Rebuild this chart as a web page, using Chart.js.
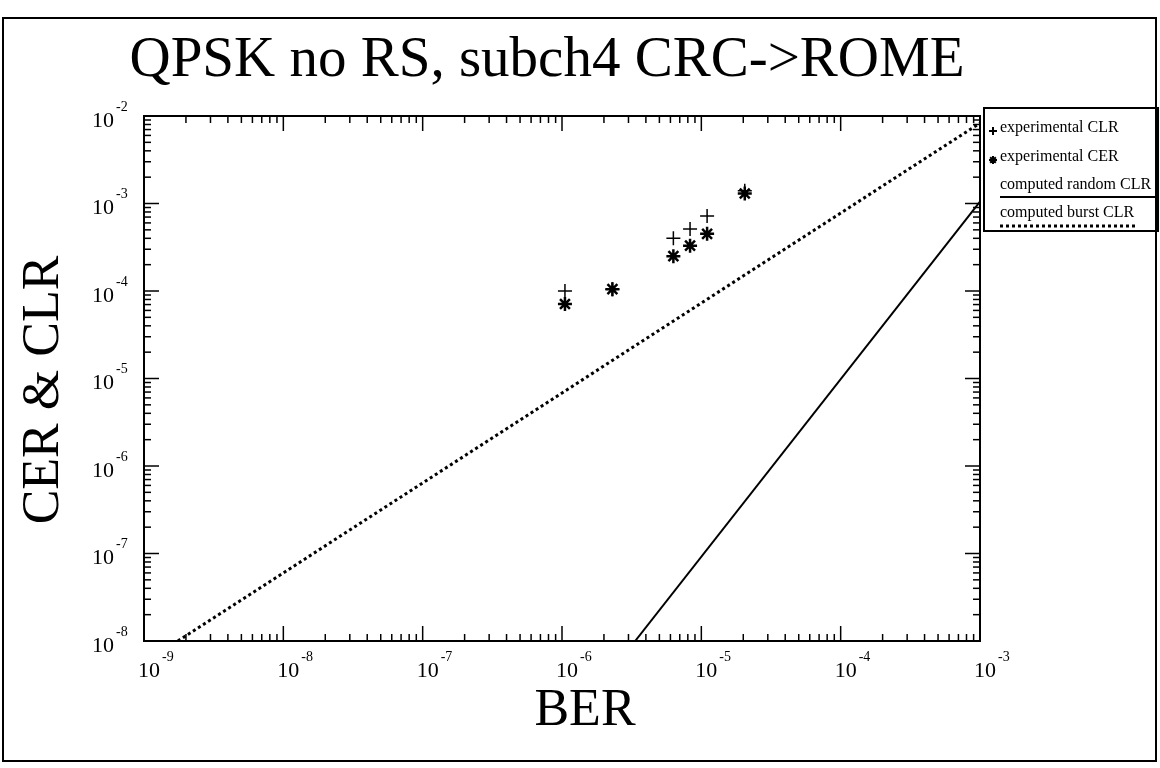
<!DOCTYPE html>
<html>
<head>
<meta charset="utf-8">
<title>QPSK no RS, subch4 CRC->ROME</title>
<script src="https://cdn.jsdelivr.net/npm/chart.js@4/dist/chart.umd.min.js"></script>
<style>
  html, body { margin: 0; padding: 0; background: #fff; }
  #wrap { position: relative; width: 1160px; height: 768px; }
</style>
</head>
<body>
<div id="wrap"><canvas id="ber-chart" width="1160" height="768"></canvas></div>
<script>
// Measured points (BER on x, CLR / CER on y)
var BER_MEASURED = [1.05e-6, 2.3e-6, 6.3e-6, 8.3e-6, 1.1e-5, 2.05e-5];
var CLR_MEASURED = [1.0e-4, 1.05e-4, 4.0e-4, 5.1e-4, 7.2e-4, 1.4e-3];
var CER_MEASURED = [7.1e-5, 1.05e-4, 2.5e-4, 3.3e-4, 4.5e-4, 1.3e-3];

// Computed curves (end points of straight lines on log-log axes)
var BER_RANDOM = [3.35e-6, 1e-3];
var CLR_RANDOM = [1e-8, 1.05e-3];
var BER_BURST = [1.75e-9, 1e-3];
var CLR_BURST = [1e-8, 8.3e-3];

// Axis decades (exponents of ten)
var X_EXPONENTS = [-9, -8, -7, -6, -5, -4, -3];
var Y_EXPONENTS = [-8, -7, -6, -5, -4, -3, -2];

var LEGEND_LABELS = ['experimental CLR', 'experimental CER', 'computed random CLR', 'computed burst CLR'];

var SERIF = '"Liberation Serif", "Times New Roman", serif';

function pairs(xs, ys) {
  return xs.map(function (x, i) { return { x: x, y: ys[i] }; });
}

// ── Frame, inward ticks, labels, titles, legend ──

var decorations = {
  id: 'decorations',
  afterDraw: function (chart) {
    var ctx = chart.ctx;
    var a = chart.chartArea;
    var xs = chart.scales.x;
    var ys = chart.scales.y;

    ctx.save();
    ctx.strokeStyle = '#000';
    ctx.fillStyle = '#000';

    // top and right frame lines
    ctx.lineWidth = 2;
    ctx.beginPath();
    ctx.moveTo(a.left, a.top); ctx.lineTo(a.right, a.top); ctx.lineTo(a.right, a.bottom);
    ctx.stroke();

    // ticks on all four sides
    ctx.lineWidth = 1.5;
    function tick(x1, y1, x2, y2) {
      ctx.beginPath(); ctx.moveTo(x1, y1); ctx.lineTo(x2, y2); ctx.stroke();
    }
    X_EXPONENTS.forEach(function (e, i) {
      for (var m = 1; m <= 9; m++) {
        if (m > 1 && i === X_EXPONENTS.length - 1) break;
        var px = xs.getPixelForValue(m * Math.pow(10, e));
        var len = m === 1 ? 15 : 7;
        tick(px, a.bottom, px, a.bottom - len);
        tick(px, a.top, px, a.top + len);
      }
    });
    Y_EXPONENTS.forEach(function (e, i) {
      for (var m = 1; m <= 9; m++) {
        if (m > 1 && i === Y_EXPONENTS.length - 1) break;
        var py = ys.getPixelForValue(m * Math.pow(10, e));
        var len = m === 1 ? 15 : 7;
        tick(a.left, py, a.left + len, py);
        tick(a.right, py, a.right - len, py);
      }
    });

    // tick labels: "10" with superscript exponent
    ctx.textBaseline = 'middle';
    X_EXPONENTS.forEach(function (e) {
      var px = xs.getPixelForValue(Math.pow(10, e));
      ctx.font = '22px ' + SERIF;
      ctx.textAlign = 'right';
      ctx.fillText('10', px + 16, a.bottom + 30);
      ctx.font = '14px ' + SERIF;
      ctx.textAlign = 'left';
      ctx.fillText(String(e), px + 18, a.bottom + 16);
    });
    Y_EXPONENTS.forEach(function (e) {
      var py = ys.getPixelForValue(Math.pow(10, e));
      ctx.font = '22px ' + SERIF;
      ctx.textAlign = 'right';
      ctx.fillText('10', a.left - 30, py + 5);
      ctx.font = '14px ' + SERIF;
      ctx.textAlign = 'left';
      ctx.fillText(String(e), a.left - 28, py - 9);
    });

    // chart title and axis titles
    ctx.textBaseline = 'alphabetic';
    ctx.textAlign = 'center';
    ctx.font = '57px ' + SERIF;
    ctx.fillText('QPSK no RS, subch4 CRC->ROME', 547, 76);
    ctx.font = '52px ' + SERIF;
    ctx.fillText('BER', 585, 725);
    ctx.save();
    ctx.translate(58, 390);
    ctx.rotate(-Math.PI / 2);
    ctx.fillText('CER & CLR', 0, 0);
    ctx.restore();

    // legend box
    ctx.lineWidth = 2;
    ctx.strokeRect(984, 108, 174, 123);
    ctx.font = '16px ' + SERIF;
    ctx.textAlign = 'left';
    ctx.textBaseline = 'middle';
    var rowY = [128, 157, 185, 213];
    LEGEND_LABELS.forEach(function (label, i) {
      ctx.fillText(label, 1000, rowY[i]);
    });
    var ds = chart.data.datasets;
    Chart.helpers.drawPoint(ctx, { pointStyle: 'cross', radius: 4, borderWidth: 1.5 }, 993, rowY[0] + 3);
    ctx.lineWidth = 2;
    Chart.helpers.drawPoint(ctx, { pointStyle: 'star', radius: 4, borderWidth: 2 }, 993, rowY[1] + 3);
    ctx.lineWidth = ds[2].borderWidth;
    ctx.setLineDash([]);
    tick(1000, rowY[2] + 12, 1155, rowY[2] + 12);
    ctx.lineWidth = ds[3].borderWidth;
    ctx.setLineDash(ds[3].borderDash);
    tick(1000, rowY[3] + 13, 1136, rowY[3] + 13);
    ctx.setLineDash([]);

    // outer page frame
    ctx.lineWidth = 2;
    ctx.strokeRect(3, 18, 1153, 743);
    ctx.restore();
  }
};

var axisStyle = {
  ticks: { display: false },
  grid: { display: false, drawTicks: false, tickLength: 0 },
  border: { display: true, color: '#000', width: 2 },
};

var chart = new Chart(document.getElementById('ber-chart').getContext('2d'), {
  type: 'scatter',
  data: {
    datasets: [
      {
        label: LEGEND_LABELS[0],
        data: pairs(BER_MEASURED, CLR_MEASURED),
        pointStyle: 'cross',
        pointRadius: 7,
        borderColor: '#000',
        backgroundColor: '#000',
        borderWidth: 1.5,
      },
      {
        label: LEGEND_LABELS[1],
        data: pairs(BER_MEASURED, CER_MEASURED),
        pointStyle: 'star',
        pointRadius: 7,
        borderColor: '#000',
        backgroundColor: '#000',
        borderWidth: 2.5,
      },
      {
        label: LEGEND_LABELS[2],
        data: pairs(BER_RANDOM, CLR_RANDOM),
        showLine: true,
        pointRadius: 0,
        borderColor: '#000',
        borderWidth: 2,
      },
      {
        label: LEGEND_LABELS[3],
        data: pairs(BER_BURST, CLR_BURST),
        showLine: true,
        pointRadius: 0,
        borderColor: '#000',
        borderWidth: 3,
        borderDash: [3, 3],
      },
    ],
  },
  options: {
    responsive: false,
    animation: false,
    events: [],
    layout: { padding: { left: 144, right: 180, top: 116, bottom: 127 } },
    plugins: { legend: { display: false }, tooltip: { enabled: false }, title: { display: false } },
    scales: {
      x: Object.assign({ type: 'logarithmic', min: 1e-9, max: 1e-3 }, axisStyle),
      y: Object.assign({ type: 'logarithmic', min: 1e-8, max: 1e-2 }, axisStyle),
    },
  },
  plugins: [decorations],
});
</script>
</body>
</html>
